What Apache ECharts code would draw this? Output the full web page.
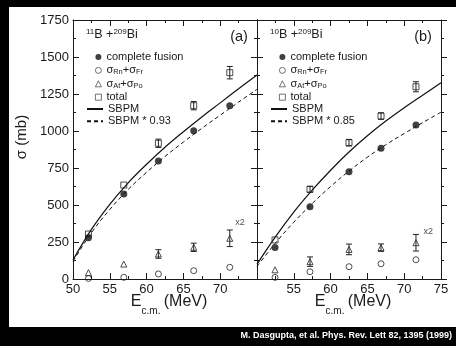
<!DOCTYPE html>
<html><head><meta charset="utf-8">
<script src="https://cdn.jsdelivr.net/npm/echarts@6/dist/echarts.min.js"></script>
<style>
html,body{margin:0;padding:0;background:#000;}
#wrap{position:relative;width:456px;height:346px;overflow:hidden;}
#bg{position:absolute;left:9px;top:7px;width:447px;height:320px;background:#fff;}
#c{position:absolute;left:0;top:0;width:456px;height:346px;}
</style>
</head><body>
<div id="wrap"><div id="bg"></div><div id="c"></div></div>
<script>
// ---------- data ----------
const X_MIN = 50, X_MAX = 75, X_STEP = 5;
const Y_MIN = 0, Y_MAX = 1750, Y_STEP = 250;
const E_GRID = [50, 52.5, 55, 57.5, 60, 62.5, 65, 67.5, 70, 72.5, 75];

// panel (a): 11B + 209Bi
const E_A = [52.1, 56.9, 61.6, 66.4, 71.3];
const CF_A = [279, 574, 797, 1002, 1171];
const RNFR_A = [4, 11, 34, 56, 79];
const ATPO_A = [43, 101, 169, 214, 275];
const ATPO_A_ERR = [0, 0, 29, 28, 56];
const TOT_A = [304, 635, 917, 1171, 1394];
const TOT_A_ERR = [0, 0, 28, 28, 42];
const SBPM_A = [128, 335, 505, 650, 775, 890, 995, 1095, 1190, 1285, 1378];
const SBPM_A_SCALED = [119, 312, 470, 605, 721, 828, 925, 1018, 1107, 1195, 1282];

// panel (b): 10B + 209Bi
const E_B = [52.45, 57.2, 62.5, 66.85, 71.6];
const CF_B = [212, 489, 725, 883, 1041];
const RNFR_B = [11, 49, 83, 103, 130];
const ATPO_B = [62, 117, 200, 212, 245];
const ATPO_B_ERR = [0, 32, 36, 25, 56];
const TOT_B = [264, 606, 921, 1101, 1299];
const TOT_B_ERR = [0, 20, 22, 22, 34];
const SBPM_B = [100, 285, 452, 600, 735, 858, 968, 1067, 1157, 1242, 1326];
const SBPM_B_SCALED = [85, 242, 384, 510, 625, 729, 823, 907, 983, 1056, 1127];

const NAMES_A = ['complete fusion', 'σRn+σFr', 'σAt+σPo', 'total', 'SBPM', 'SBPM * 0.93'];
const NAMES_B = ['complete fusion', 'σRn+σFr', 'σAt+σPo', 'total', 'SBPM', 'SBPM * 0.85'];

// ---------- styling ----------
const FONT = "'Liberation Sans', Arial, Helvetica, sans-serif";
const INK = '#1a1a1a';

const zip = (xs, ys) => xs.map((x, i) => [x, ys[i]]);

function xAx(grid, pos, showLabels, hideMin, hideMax) {
  return {
    type: 'value', gridIndex: grid, position: pos, min: X_MIN, max: X_MAX, interval: X_STEP,
    axisLine: { show: true, onZero: false, lineStyle: { color: INK, width: 1 } },
    axisTick: { show: true, inside: true, length: 6, lineStyle: { color: INK, width: 1 } },
    minorTick: { show: true, splitNumber: 2, length: 3, lineStyle: { color: INK, width: 1 } },
    axisLabel: { show: showLabels, color: INK, fontSize: 13, fontFamily: FONT, margin: 4,
      showMinLabel: !hideMin, showMaxLabel: !hideMax, formatter: v => String(v) },
    splitLine: { show: false }, minorSplitLine: { show: false }
  };
}
function yAx(grid, pos, showLabels, inside) {
  return {
    type: 'value', gridIndex: grid, position: pos, min: Y_MIN, max: Y_MAX, interval: Y_STEP,
    axisLine: { show: true, onZero: false, lineStyle: { color: INK, width: 1 } },
    axisTick: { show: true, inside: inside, length: 6, lineStyle: { color: INK, width: 1 } },
    minorTick: { show: true, splitNumber: 2, length: 3, lineStyle: { color: INK, width: 1 } },
    axisLabel: { show: showLabels, color: INK, fontSize: 13, fontFamily: FONT, margin: 4, formatter: v => String(v) },
    splitLine: { show: false }, minorSplitLine: { show: false }
  };
}

function errSeries(xs, ys, errs, xi, yi) {
  return {
    type: 'custom', xAxisIndex: xi, yAxisIndex: yi, silent: true, z: 2,
    encode: { x: 0, y: 1 },
    data: xs.map((x, i) => [x, ys[i], errs[i]]),
    renderItem(params, api) {
      const e = api.value(2);
      if (!e) return null;
      const x = api.value(0), y = api.value(1);
      const t = api.coord([x, y + e]), b = api.coord([x, y - e]);
      const st = { stroke: '#222', lineWidth: 1 };
      const c = 3;
      return { type: 'group', children: [
        { type: 'line', shape: { x1: t[0], y1: t[1], x2: b[0], y2: b[1] }, style: st },
        { type: 'line', shape: { x1: t[0] - c, y1: t[1], x2: t[0] + c, y2: t[1] }, style: st },
        { type: 'line', shape: { x1: b[0] - c, y1: b[1], x2: b[0] + c, y2: b[1] }, style: st }
      ]};
    }
  };
}

function panelSeries(xi, yi, E, CF, RNFR, ATPO, ATPO_ERR, TOT, TOT_ERR, SB, SBS, scaledName, x2Offset) {
  const hollow = { color: 'rgba(0,0,0,0)', borderColor: '#222', borderWidth: 1 };
  const atpoData = zip(E, ATPO).map((d, i, arr) => i === arr.length - 1 ?
    { value: d, label: { show: true, formatter: 'x2', position: 'right', distance: 2, offset: x2Offset,
      fontSize: 9, color: INK, fontFamily: FONT } } : d);
  return [
    { name: 'SBPM', type: 'line', xAxisIndex: xi, yAxisIndex: yi, data: zip(E_GRID, SB), smooth: 0.4,
      symbol: 'none', lineStyle: { color: '#111', width: 1.2, type: 'solid' }, itemStyle: { color: 'rgba(0,0,0,0)' }, z: 1, silent: true },
    { name: scaledName, type: 'line', xAxisIndex: xi, yAxisIndex: yi, data: zip(E_GRID, SBS), smooth: 0.4,
      symbol: 'none', lineStyle: { color: '#111', width: 1, type: [4, 3] }, itemStyle: { color: 'rgba(0,0,0,0)' }, z: 1, silent: true },
    errSeries(E, ATPO, ATPO_ERR, xi, yi),
    errSeries(E, TOT, TOT_ERR, xi, yi),
    { name: 'complete fusion', type: 'scatter', xAxisIndex: xi, yAxisIndex: yi, data: zip(E, CF),
      symbol: 'circle', symbolSize: 7, itemStyle: { color: '#111' }, z: 4 },
    { name: 'σRn+σFr', type: 'scatter', xAxisIndex: xi, yAxisIndex: yi, data: zip(E, RNFR),
      symbol: 'circle', symbolSize: 6, itemStyle: hollow, z: 4 },
    { name: 'σAt+σPo', type: 'scatter', xAxisIndex: xi, yAxisIndex: yi, data: atpoData,
      symbol: 'triangle', symbolSize: 6, itemStyle: hollow, z: 4 },
    { name: 'total', type: 'scatter', xAxisIndex: xi, yAxisIndex: yi, data: zip(E, TOT),
      symbol: 'rect', symbolSize: 6, itemStyle: hollow, z: 4 }
  ];
}

const LEGEND_RICH = {
  s: { fontSize: 11, lineHeight: 12, fontFamily: FONT, color: INK },
  sub: { fontSize: 7.5, lineHeight: 4, verticalAlign: 'bottom', fontFamily: FONT, color: INK }
};
function legendFmt(name) {
  const m = name.match(/^σ(\w\w)\+σ(\w\w)$/);
  if (m) return '{s|σ}{sub|' + m[1] + '}{s|+σ}{sub|' + m[2] + '}';
  return name;
}
function legend(left, top, names, w, h, gap, isLine) {
  const l = {
    left: left, top: top, orient: 'vertical', padding: 0, itemWidth: w, itemHeight: h, itemGap: gap,
    selectedMode: false, data: names, formatter: legendFmt,
    textStyle: { fontSize: 11, lineHeight: 12, color: INK, fontFamily: FONT, rich: LEGEND_RICH }
  };
  if (isLine) {
    l.itemStyle = { color: 'rgba(0,0,0,0)', borderColor: 'rgba(0,0,0,0)', borderWidth: 0 };
    l.lineStyle = { color: '#111' };
  } else {
    l.itemStyle = { borderWidth: 0.8 };
  }
  return l;
}

const TITLE_RICH = {
  b: { fontSize: 12.5, lineHeight: 14, fontFamily: FONT, color: INK, fontWeight: 'normal' },
  sup: { fontSize: 8, lineHeight: 8, verticalAlign: 'top', fontFamily: FONT, color: INK, fontWeight: 'normal' }
};

const PW = 184; // panel width in px (layout only)

function axisNameText(cx) {
  return [
    { type: 'text', x: cx - 29, y: 301.5, style: { text: 'E', font: '16px ' + FONT, fill: INK, align: 'center', verticalAlign: 'middle' } },
    { type: 'text', x: cx - 14, y: 311, style: { text: 'c.m.', font: '10px ' + FONT, fill: INK, align: 'center', verticalAlign: 'middle' } },
    { type: 'text', x: cx + 20.5, y: 301.5, style: { text: '(MeV)', font: '16px ' + FONT, fill: INK, align: 'center', verticalAlign: 'middle' } }
  ];
}

const chart = echarts.init(document.getElementById('c'), null, { renderer: 'canvas' });
chart.setOption({
  backgroundColor: 'transparent',
  animation: false,
  grid: [
    { left: 73, top: 20, width: PW, height: 259, outerBoundsMode: 'none', containLabel: false },
    { left: 73 + PW, top: 20, width: PW, height: 259, outerBoundsMode: 'none', containLabel: false }
  ],
  xAxis: [
    xAx(0, 'bottom', true, false, true),
    xAx(0, 'top', false, false, false),
    xAx(1, 'bottom', true, true, false),
    xAx(1, 'top', false, false, false)
  ],
  yAxis: [
    yAx(0, 'left', true, true),
    yAx(0, 'right', false, true),
    yAx(1, 'left', false, true),
    yAx(1, 'right', false, false)
  ],
  title: [
    { text: '{sup|11}{b|B +}{sup|209}{b|Bi}', left: 86, top: 28, padding: 0, textStyle: { fontWeight: 'normal', rich: TITLE_RICH } },
    { text: '{sup|10}{b|B +}{sup|209}{b|Bi}', left: 86 + PW, top: 28, padding: 0, textStyle: { fontWeight: 'normal', rich: TITLE_RICH } }
  ],
  legend: [
    legend(95, 51, NAMES_A.slice(0, 4), 6, 6, 1.4, false),
    legend(86, 103, NAMES_A.slice(4), 16, 7, 0.3, true),
    legend(95 + PW, 51, NAMES_B.slice(0, 4), 6, 6, 1.4, false),
    legend(86 + PW, 103, NAMES_B.slice(4), 16, 7, 0.3, true)
  ],
  graphic: [
    { type: 'text', x: 239, y: 37, style: { text: '(a)', font: '14.5px ' + FONT, fill: INK, align: 'center', verticalAlign: 'middle' } },
    { type: 'text', x: 239 + PW, y: 37, style: { text: '(b)', font: '14.5px ' + FONT, fill: INK, align: 'center', verticalAlign: 'middle' } },
    { type: 'text', x: 22, y: 137, rotation: Math.PI / 2, style: { text: 'σ (mb)', font: '15px ' + FONT, fill: INK, align: 'center', verticalAlign: 'middle' } },
    ...axisNameText(165),
    ...axisNameText(165 + PW),
    { type: 'text', x: 452, y: 336, style: { text: 'M. Dasgupta, et al. Phys. Rev. Lett 82, 1395 (1999)',
      font: 'bold 9px ' + FONT, fill: '#fff', align: 'right', verticalAlign: 'middle' } }
  ],
  series: [
    ...panelSeries(0, 0, E_A, CF_A, RNFR_A, ATPO_A, ATPO_A_ERR, TOT_A, TOT_A_ERR, SBPM_A, SBPM_A_SCALED, 'SBPM * 0.93', [0, -16]),
    ...panelSeries(2, 2, E_B, CF_B, RNFR_B, ATPO_B, ATPO_B_ERR, TOT_B, TOT_B_ERR, SBPM_B, SBPM_B_SCALED, 'SBPM * 0.85', [2, -11])
  ]
});
</script>
</body></html>
